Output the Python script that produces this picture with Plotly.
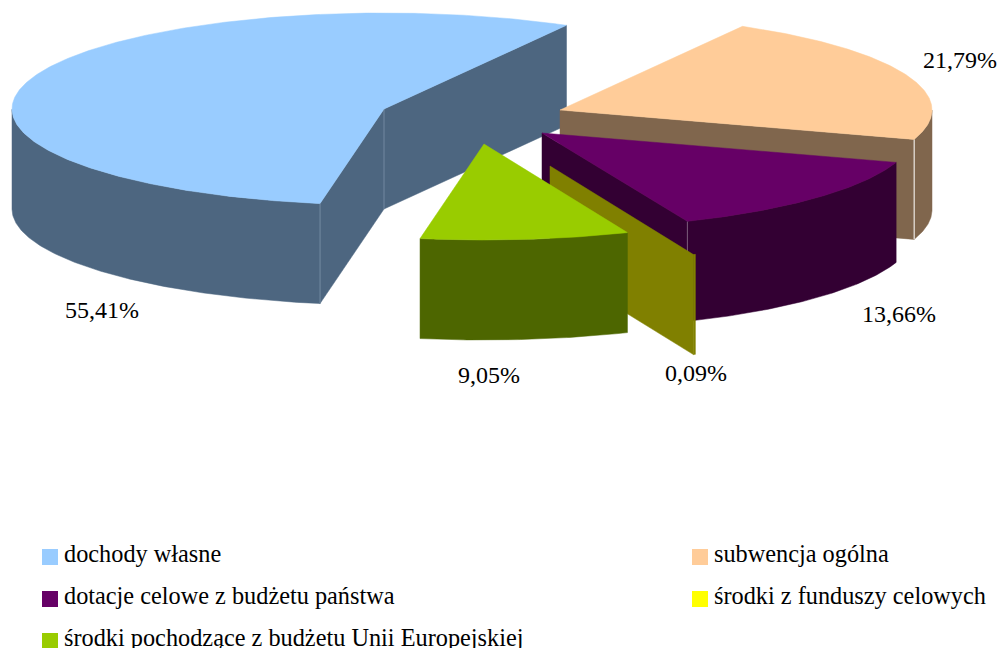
import numpy as np
import plotly.graph_objects as go

# Data
categories = ["dochody własne", "subwencja ogólna", "dotacje celowe z budżetu państwa",
              "środki z funduszy celowych", "środki pochodzące z budżetu Unii Europejskiej"]
shares = [55.41, 21.79, 13.66, 0.09, 9.05]
share_labels = ["55,41%", "21,79%", "13,66%", "0,09%", "9,05%"]

# Styles
top_colors = ["#99CCFF", "#FFCC99", "#660066", "#FFFF00", "#99CC00"]
side_colors = ["#4D6680", "#80664D", "#330033", "#808000", "#4D6600"]
seam_colors = ["#7289A0", "#FFFFFF", "#7A5C7A", "#808000", "#4D6600"]

# Layout of the projected, exploded pie (pixels of the 998x648 page)
apexes = [(384, 109), (560, 110), (542, 133), (550, 166), (484, 144)]
RX, RY, DEPTH = 372, 96, 100
START_DEG = -99.9
label_pos = [(102, 312), (960, 62), (899, 316), (696, 375), (489, 377)]
legend_pos = [(50, 557), (700, 557), (50, 599), (700, 599), (50, 641)]
TEXT_FONT = "Liberation Serif"

fig = go.Figure()


def poly(xs, ys, color, width=0.5):
    fig.add_trace(go.Scatter(x=xs, y=ys, mode="lines", fill="toself", fillcolor=color,
                             line=dict(color=color, width=width), hoverinfo="skip", showlegend=False))


def seam(x, y, color):
    fig.add_trace(go.Scatter(x=[x, x], y=[y, y + DEPTH], mode="lines",
                             line=dict(color=color, width=1), hoverinfo="skip", showlegend=False))


edges = START_DEG - np.cumsum([0] + shares) * 3.6
for i, (cx, cy) in enumerate(apexes):
    t0, t1 = np.radians(edges[i]), np.radians(edges[i + 1])
    n = max(3, int(abs(edges[i] - edges[i + 1])) * 2)
    ts = np.linspace(t0, t1, n)
    ex = cx + RX * np.cos(ts)
    ey = cy - RY * np.sin(ts)

    # Radial faces that look toward the viewer, the farthest one first
    faces = []
    if np.cos(t1) > 0:
        faces.append(t1)
    if np.cos(t0) < 0:
        faces.append(t0)
    for t in faces:
        px, py = cx + RX * np.cos(t), cy - RY * np.sin(t)
        poly([cx, px, px, cx, cx], [cy, py, py + DEPTH, cy + DEPTH, cy], side_colors[i])

    # Outer wall: only the front half of the rim
    front = np.sin(ts) <= 0
    if front.any():
        wx, wy = ex[front], ey[front]
        poly(np.r_[wx, wx[::-1], wx[0]], np.r_[wy, wy[::-1] + DEPTH, wy[0]], side_colors[i])

    # Seams between faces
    for t in faces:
        if (i == 0 and t == t0) or i in (1, 2):
            seam(cx + RX * np.cos(t), cy - RY * np.sin(t), seam_colors[i])
    if i == 0:
        seam(cx, cy, seam_colors[i])

    # Top (a sliver under one degree vanishes into its edge, as in the reference)
    if abs(edges[i] - edges[i + 1]) >= 1:
        poly(np.r_[cx, ex, cx], np.r_[cy, ey, cy], top_colors[i])

# Percentage labels
fig.add_trace(go.Scatter(x=[p[0] for p in label_pos], y=[p[1] for p in label_pos],
                         mode="text", text=share_labels, textposition="middle center",
                         textfont=dict(family=TEXT_FONT, size=24, color="#000000"),
                         hoverinfo="skip", showlegend=False))

# Legend
fig.add_trace(go.Scatter(x=[p[0] for p in legend_pos], y=[p[1] for p in legend_pos],
                         mode="markers", marker=dict(symbol="square", size=16, color=top_colors),
                         hoverinfo="skip", showlegend=False))
fig.add_trace(go.Scatter(x=[p[0] + 14 for p in legend_pos], y=[p[1] - 1 for p in legend_pos],
                         mode="text", text=categories, textposition="middle right",
                         textfont=dict(family=TEXT_FONT, size=24.3, color="#000000"),
                         hoverinfo="skip", showlegend=False))

fig.update_layout(
    width=998, height=648, autosize=False, margin=dict(l=0, r=0, t=0, b=0),
    paper_bgcolor="white", plot_bgcolor="white", showlegend=False,
    xaxis=dict(range=[0, 998], visible=False, fixedrange=True),
    yaxis=dict(range=[648, 0], visible=False, fixedrange=True),
)
fig.write_html("out.html", config=dict(displayModeBar=False),
               post_script="document.body.style.margin='0';document.body.style.overflow='hidden';")
